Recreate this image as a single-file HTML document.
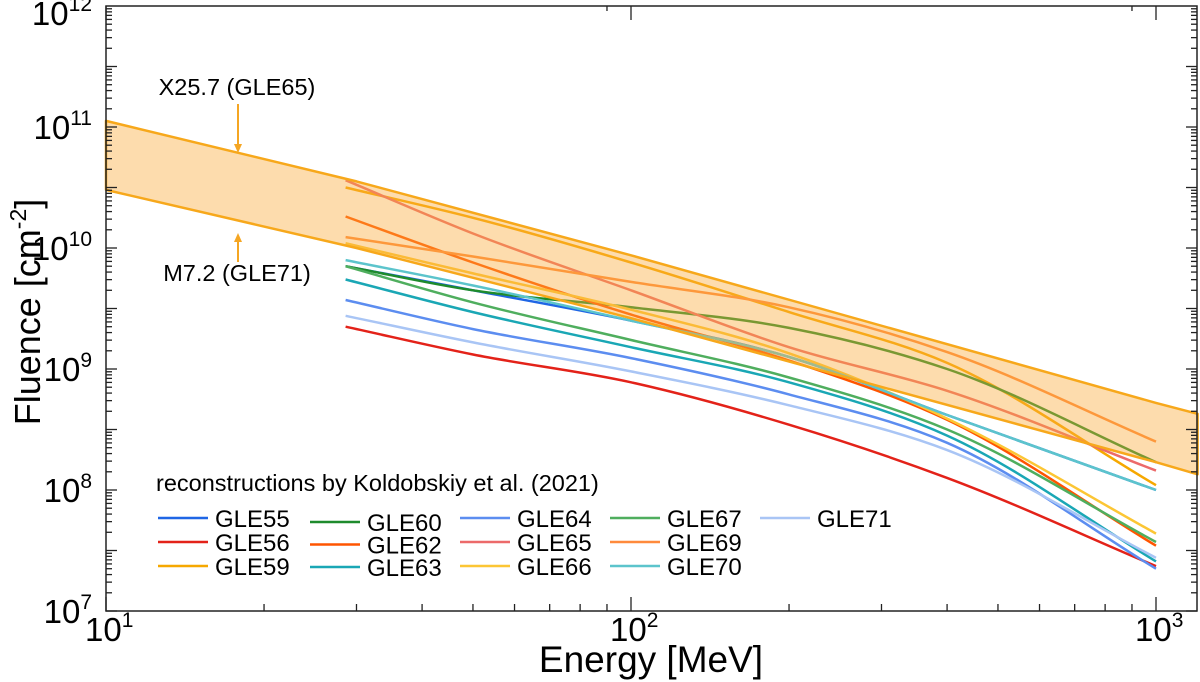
<!DOCTYPE html>
<html><head><meta charset="utf-8"><style>
html,body{margin:0;padding:0;background:#fff;}
svg{display:block;font-family:"Liberation Sans",Arial,sans-serif;}
</style></head><body>
<svg id="chart" width="1200" height="682" viewBox="0 0 1200 682">
<g id="curves"></g>
<g id="band"></g>
<g id="axes"></g>
<g id="legend"></g>
<text x="237" y="95" font-size="23.5" text-anchor="middle">X25.7 (GLE65)</text>
<line x1="238" y1="104" x2="238" y2="146" stroke="#f5a623" stroke-width="2"/>
<polygon points="234,144 242,144 238,153" fill="#f5a623"/>
<line x1="238" y1="240" x2="238" y2="262" stroke="#f5a623" stroke-width="2"/>
<polygon points="234,242 242,242 238,233" fill="#f5a623"/>
<text x="237" y="281" font-size="23.5" text-anchor="middle">M7.2 (GLE71)</text>
<text transform="translate(40,312) rotate(-90)" font-size="36" text-anchor="middle">Fluence [cm<tspan dy="-14" font-size="23">-2</tspan><tspan dy="14">]</tspan></text>
<text x="651" y="672" font-size="37" text-anchor="middle">Energy [MeV]</text>
</svg>
<script>
const energies = [28.6, 50, 100, 200, 400, 1000];
const seriesNames = ["GLE55","GLE56","GLE59","GLE60","GLE62","GLE63","GLE64","GLE65","GLE66","GLE67","GLE69","GLE70","GLE71"];
const seriesColors = ["#1f66e5","#e32219","#f6a800","#1e8b2c","#ff5500","#1aa7b5","#5c8df0","#ec6a6a","#fcc634","#4fae5e","#ff8a3c","#5cc4cc","#a9c5f5"];
// log10 fluence values
const gle55 = [9.85, 9.65, 9.40, 9.10, 8.62, 8.00];
const gle56 = [9.35, 9.12, 8.89, 8.54, 8.10, 7.37];
const gle59 = [10.50, 10.25, 9.88, 9.47, 9.05, 8.04];
const gle60 = [9.85, 9.65, 9.51, 9.34, 9.00, 8.23];
const gle62 = [10.26, 9.88, 9.45, 9.07, 8.58, 7.54];
const gle63 = [9.74, 9.47, 9.18, 8.89, 8.45, 7.41];
const gle64 = [9.57, 9.33, 9.09, 8.79, 8.39, 7.35];
const gle65 = [10.56, 10.12, 9.65, 9.18, 8.82, 8.16];
const gle66 = [10.04, 9.79, 9.49, 9.13, 8.59, 7.64];
const gle67 = [9.85, 9.55, 9.24, 8.93, 8.50, 7.57];
const gle69 = [10.09, 9.93, 9.72, 9.51, 9.14, 8.40];
const gle70 = [9.90, 9.69, 9.40, 9.10, 8.62, 8.00];
const gle71 = [9.44, 9.22, 8.98, 8.70, 8.33, 7.44];
const bandEnergies = [10, 30, 100, 1000, 1200];
const bandUpper = [11.05, 10.55, 9.94, 8.72, 8.63];
const bandLower = [10.48, 10.0, 9.42, 8.23, 8.13];
const xTickLabels = ["1","2","3"];
const yTickLabels = ["7","8","9","10","11","12"];

const series = [gle55,gle56,gle59,gle60,gle62,gle63,gle64,gle65,gle66,gle67,gle69,gle70,gle71];
const L=106,R=1197,T=6,B=611;
function xs(e){return L+(Math.log10(e)-1)*525;}
function ys(lg){return B-(lg-7)*121;}
const NS="http://www.w3.org/2000/svg";
function mk(tag,attrs,parent){const el=document.createElementNS(NS,tag);for(const k in attrs)el.setAttribute(k,attrs[k]);parent.appendChild(el);return el;}

function smoothPath(pts){
  const n=pts.length,sec=[],tan=[];
  for(let i=0;i<n-1;i++)sec.push((pts[i+1][1]-pts[i][1])/(pts[i+1][0]-pts[i][0]));
  for(let i=0;i<n;i++){
    if(i===0)tan.push(sec[0]);else if(i===n-1)tan.push(sec[n-2]);
    else{const w1=pts[i+1][0]-pts[i][0],w0=pts[i][0]-pts[i-1][0];tan.push((sec[i-1]*w1+sec[i]*w0)/(w0+w1));}
  }
  let d="M"+pts[0][0].toFixed(1)+","+pts[0][1].toFixed(1);
  for(let i=0;i<n-1;i++){
    const dx=(pts[i+1][0]-pts[i][0])/3;
    d+=" C"+(pts[i][0]+dx).toFixed(1)+","+(pts[i][1]+tan[i]*dx).toFixed(1)+" "+(pts[i+1][0]-dx).toFixed(1)+","+(pts[i+1][1]-tan[i+1]*dx).toFixed(1)+" "+pts[i+1][0].toFixed(1)+","+pts[i+1][1].toFixed(1);
  }
  return d;
}
const cg=document.getElementById("curves");
series.forEach((s,i)=>{
  const pts=energies.map((e,j)=>[xs(e),ys(s[j])]);
  const p=mk("path",{d:smoothPath(pts),fill:"none",stroke:seriesColors[i],"stroke-width":2.5},cg);
  
  
});
const bg=document.getElementById("band");
let pts=bandEnergies.map((e,j)=>xs(e).toFixed(1)+","+ys(bandUpper[j]).toFixed(1));
for(let j=bandEnergies.length-1;j>=0;j--)pts.push(xs(bandEnergies[j]).toFixed(1)+","+ys(bandLower[j]).toFixed(1));
const poly=mk("polygon",{points:pts.join(" "),fill:"rgba(250,172,60,0.42)",stroke:"#f7a81b","stroke-width":2.5,"stroke-linejoin":"round"},bg);



const ag=document.getElementById("axes");
const frame=mk("rect",{x:L,y:T,width:R-L,height:B-T,fill:"none",stroke:"#222","stroke-width":1.5},ag);


for(let d=1;d<=3;d++){
  for(let m=1;m<=9;m++){
    const e=m*Math.pow(10,d); if(e>1237)break;
    const x=xs(e),len=m===1?14:7;
    mk("line",{x1:x,y1:B,x2:x,y2:B-len,stroke:"#222","stroke-width":1.3},ag);
    if(m===1||m===9) mk("line",{x1:x,y1:T,x2:x,y2:T+(m===1?14:5),stroke:"#222","stroke-width":1.3},ag);
  }
}
xTickLabels.forEach((t,i)=>{
  const x=xs(Math.pow(10,Number(t)));
  const tx=mk("text",{x:x-21,y:641,"font-size":33},ag);
  
  
  tx.innerHTML='10<tspan dy="-14" font-size="21">'+t+'</tspan>';
});
for(let h=0;h<10;h++){
  const base=B-h*60.5;
  for(let m=1;m<=9;m++){
    const y=base-Math.log10(m)*60.5,len=m===1?11:6;
    mk("line",{x1:L,y1:y,x2:L+len,y2:y,stroke:"#222","stroke-width":1.3},ag);
    mk("line",{x1:R,y1:y,x2:R-len,y2:y,stroke:"#222","stroke-width":1.3},ag);
  }
}
yTickLabels.forEach((t)=>{
  const y=ys(Number(t));
  const tx=mk("text",{x:92,y:Math.max(y+12,25),"font-size":33,"text-anchor":"end"},ag);
  
  
  tx.innerHTML='10<tspan dy="-14" font-size="21">'+t+'</tspan>';
});

const lg=document.getElementById("legend");
const hd=mk("text",{x:156,y:491,"font-size":23.5},lg);


hd.textContent="reconstructions by Koldobskiy et al. (2021)";
const colX=[158,310,460,610,760];
seriesNames.forEach((n,i)=>{
  const c=Math.floor(i/3),r=i%3;
  const y=(c===1?522:518)+r*(c===1?22.5:24);
  const g=mk("g",{},lg);
  
  
  mk("line",{x1:colX[c],y1:y,x2:colX[c]+50,y2:y,stroke:seriesColors[i],"stroke-width":2.5},g);
  const t=mk("text",{x:colX[c]+57,y:y+9,"font-size":24},g);
  t.textContent=n;
});
</script>
</body></html>
